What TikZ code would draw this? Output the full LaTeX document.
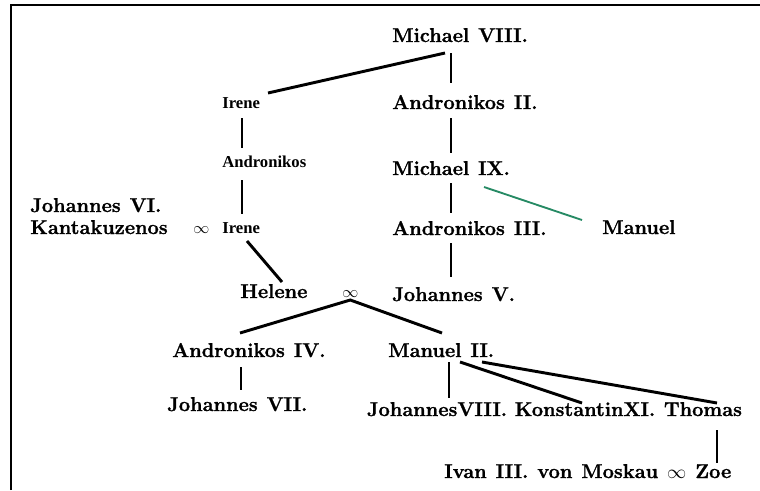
\documentclass[tikz,border=0pt]{standalone}
\usepackage{amsmath, amssymb}
\usepackage{fontspec}
\setmainfont{Latin Modern Roman}[BoldFeatures={FakeBold=1.2}]
\newfontfamily\minorfont{Liberation Serif}
\usetikzlibrary{positioning, calc}

\definecolor{sidegreen}{RGB}{38,138,100}
\newcommand{\widewords}{\spaceskip=0.45em plus 0.1em\relax}

\begin{document}
\begin{tikzpicture}[
    x=0.75pt, y=-0.75pt,
    person/.style={
        font=\fontsize{15}{18}\selectfont\bfseries\widewords,
        inner sep=0pt,
        anchor=base west
    },
    minor/.style={
        font=\fontsize{12.5}{14}\selectfont\minorfont\bfseries,
        inner sep=0pt,
        anchor=base west
    },
    link/.style={line width=2.2pt, black},
    sidelink/.style={line width=1.4pt, sidegreen},
    frame/.style={line width=1.6pt, black}
]

% ===== Rahmen (nur oben und links) =====
\useasboundingbox (0,0) rectangle (760,490);
\draw[frame] (11,490) -- (11,5) -- (760,5);

% ===== Hauptlinie =====
\node[person] (mich8)   at (392,42)  {Michael VIII.};
\node[person] (andr2)   at (392,109) {Andronikos II.};
\node[person] (mich9)   at (392,175) {Michael IX.};
\node[person] (andr3)   at (392,235) {Andronikos III.};
\node[person] (johv)    at (392,301) {Johannes V.};
\node[person] (manuel)  at (602,234) {Manuel};
\node[person] (manuel2) at (388,357) {Manuel II.};

% ===== Seitenlinie Irene =====
\node[minor] (irene1) at (222,108) {Irene};
\node[minor] (andron) at (222,167) {Andronikos};
\node[minor] (irene2) at (222,233) {Irene};
\node[minor] (marr1)  at (193,233) {$\infty$};
\node[person] (johvi) at (30,212) {Johannes VI.};
\node[person] (kanta) at (30,234) {Kantakuzenos};
\node[person] (helene) at (240,298) {Helene};
\node[minor] (marr2)  at (342,297) {$\infty$};

% ===== Nachkommen =====
\node[person] (andr4)  at (172,357) {Andronikos IV.};
\node[person] (joh7)   at (167,411) {Johannes VII.};
\node[person, anchor=base] (joh8)   at (437,416) {JohannesVIII.};
\node[person, anchor=base] (konst)  at (585,416) {KonstantinXI.};
\node[person, anchor=base] (thomas) at (703,416) {Thomas};
\node[person] (ivan)   at (444,478) {Ivan III. von Moskau $\infty$ Zoe};

% ===== Verbindungen =====
\draw[link] ($(mich8.base west)+(53,11)$) -- ($(irene1.base west)+(46,-15)$);
\draw[link] ($(mich8.base west)+(59,11)$) -- ($(andr2.base west)+(59,-26)$);
\draw[link] ($(andr2.base west)+(59,9)$) -- ($(mich9.base west)+(59,-22)$);
\draw[link] ($(mich9.base west)+(59,8)$) -- ($(andr3.base west)+(59,-22)$);
\draw[link] ($(andr3.base west)+(59,8)$) -- ($(johv.base west)+(59,-24)$);
\draw[sidelink] ($(mich9.base west)+(92,12)$) -- ($(manuel.base west)+(-20,-14)$);

\draw[link] ($(irene1.base west)+(20,10)$) -- ($(andron.base west)+(20,-19)$);
\draw[link] ($(andron.base west)+(20,13)$) -- ($(irene2.base west)+(20,-19)$);
\draw[link] ($(irene2.base west)+(25,8)$) -- ($(helene.base west)+(42,-16)$);

\coordinate (peak) at ($(marr2.base)+(0,3)$); % Ehe Helene / Johannes V.
\draw[link] ($(andr4.base west)+(68,-24)$) -- (peak) -- ($(manuel2.base west)+(54,-24)$);

\draw[link] ($(andr4.base west)+(69,10)$) -- ($(joh7.base west)+(74,-21)$);
\draw[link] ($(manuel2.base west)+(61,5)$) -- ($(joh8.base)+(12,-18)$);
\draw[link] ($(manuel2.base west)+(72,5)$) -- ($(konst.base)+(-3,-13)$);
\draw[link] ($(manuel2.base west)+(94,5)$) -- ($(thomas.base)+(14,-13)$);
\draw[link] ($(thomas.base)+(14,14)$) -- ($(ivan.base west)+(273,-15)$);

\end{tikzpicture}
\end{document}
